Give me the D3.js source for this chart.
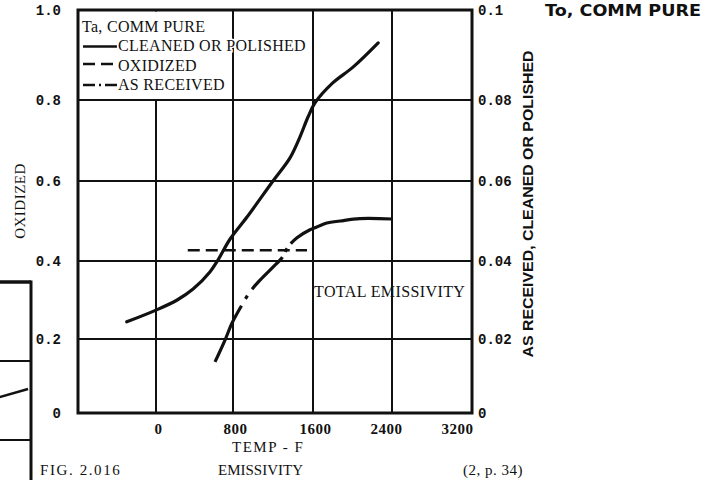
<!DOCTYPE html>
<html>
<head>
<meta charset="utf-8">
<script src="https://cdn.jsdelivr.net/npm/d3@7"></script>
<style>
  body { margin: 0; background: #fff; }
  svg { display: block; background: #fff; }
</style>
</head>
<body>
<svg id="chart" width="718" height="480"></svg>
<script>
const xTicks = [0, 800, 1600, 2400, 3200];
const xGrid = [0, 800, 1600, 2400];
const leftTicks = [0, 0.2, 0.4, 0.6, 0.8, 1.0];
const leftTickLabels = ["0", "0.2", "0.4", "0.6", "0.8", "1.0"];
const rightTicks = [0, 0.02, 0.04, 0.06, 0.08, 0.1];
const rightTickLabels = ["0", "0.02", "0.04", "0.06", "0.08", "0.1"];

// cleaned or polished, read on the right axis
const cleanedTemp = [-300, 0, 220, 385, 560, 645, 770, 940, 1200, 1370, 1470, 1550, 1620, 1800, 2005, 2260];
const cleanedEm = [0.0244, 0.0274, 0.0300, 0.0328, 0.0372, 0.0403, 0.0455, 0.0510, 0.0600, 0.0657, 0.0709, 0.0758, 0.0793, 0.0838, 0.0873, 0.0927];

// as received, right axis
const receivedTemp = [613, 717, 790, 900, 970, 1070, 1190, 1290, 1350, 1440, 1570, 1620, 1740, 1875, 2075, 2400];
const receivedEm = [0.0138, 0.0197, 0.0241, 0.0292, 0.0321, 0.0351, 0.0382, 0.0408, 0.0435, 0.0458, 0.0478, 0.0483, 0.0495, 0.0500, 0.0506, 0.0505];

// oxidized, left axis
const oxidizedTemp = [330, 1540];
const oxidizedEm = [0.427, 0.427];

// edge of the neighbouring figure, cut off by the page
const nbGrid = [0.2, 0.4];
const nbTemp = [2800, 3170];
const nbEm = [0.303, 0.329];

const SERIF = "'Liberation Serif', 'Times New Roman', serif";
const MONO = "'Liberation Mono', 'Courier New', monospace";

const svg = d3.select("#chart");

// the scan is slightly uneven, so the grid is not evenly spaced
const x = d3.scaleLinear().domain([-800, 0, 800, 1600, 2400, 3200]).range([78, 156, 233, 313, 392, 472]);
const y = d3.scaleLinear().domain(leftTicks).range([413, 339, 261, 181, 100, 10]);
const yR = d3.scaleLinear().domain(rightTicks).range([413, 339, 261, 181, 100, 10]);

const nbX = d3.scaleLinear().domain([2400, 3200]).range([-48, 31]);
const nbY = d3.scaleLinear().domain([0, 0.6]).range([519, 282]);

// neighbour piece
const nb = svg.append("g").attr("stroke", "#111").attr("fill", "none");
nb.append("line")
  .attr("x1", nbX(2400)).attr("x2", nbX(3200))
  .attr("y1", nbY(0.6)).attr("y2", nbY(0.6))
  .attr("stroke-width", 3.5);
nb.append("line")
  .attr("x1", nbX(3200)).attr("x2", nbX(3200))
  .attr("y1", nbY(0.6) - 1.5).attr("y2", nbY(0))
  .attr("stroke-width", 3);
nb.selectAll(".nbgrid")
  .data(nbGrid)
  .join("line")
  .attr("x1", nbX(2400)).attr("x2", nbX(3200))
  .attr("y1", d => nbY(d)).attr("y2", d => nbY(d))
  .attr("stroke-width", 2);
nb.append("path")
  .datum(d3.zip(nbTemp, nbEm))
  .attr("d", d3.line().x(d => nbX(d[0])).y(d => nbY(d[1])))
  .attr("stroke-width", 2.5);

// grid
const grid = svg.append("g").attr("stroke", "#111");
grid.selectAll(".hgrid")
  .data(leftTicks.slice(1, -1))
  .join("line")
  .attr("x1", x(-800)).attr("x2", x(3200))
  .attr("y1", d => y(d)).attr("y2", d => y(d))
  .attr("stroke-width", 2);
grid.selectAll(".vgrid")
  .data(xGrid)
  .join("line")
  .attr("x1", d => x(d)).attr("x2", d => x(d))
  .attr("y1", y(1)).attr("y2", y(0))
  .attr("stroke-width", 2);

// legend box hides the grid behind it
svg.append("rect")
  .attr("x", x(-800) + 1.5)
  .attr("y", y(1) + 1.5)
  .attr("width", x(800) - x(-800) - 2.5)
  .attr("height", y(0.8) - y(1) - 2.5)
  .attr("fill", "#fff");

// frame
svg.append("rect")
  .attr("x", x(-800)).attr("y", y(1))
  .attr("width", x(3200) - x(-800))
  .attr("height", y(0) - y(1))
  .attr("fill", "none")
  .attr("stroke", "#111")
  .attr("stroke-width", 3);

// curves
const lineR = d3.line().x(d => x(d[0])).y(d => yR(d[1])).curve(d3.curveCatmullRom.alpha(0.5));
const lineL = d3.line().x(d => x(d[0])).y(d => y(d[1]));

svg.append("path")
  .datum(d3.zip(cleanedTemp, cleanedEm))
  .attr("d", lineR)
  .attr("fill", "none")
  .attr("stroke", "#111")
  .attr("stroke-width", 3.2)
  .attr("stroke-linecap", "round");

svg.append("path")
  .datum(d3.zip(receivedTemp, receivedEm))
  .attr("d", lineR)
  .attr("fill", "none")
  .attr("stroke", "#111")
  .attr("stroke-width", 3.2)
  .attr("stroke-dasharray", "62,8,4,8,44,6,4,6,400");

svg.append("path")
  .datum(d3.zip(oxidizedTemp, oxidizedEm))
  .attr("d", lineL)
  .attr("fill", "none")
  .attr("stroke", "#111")
  .attr("stroke-width", 2.6)
  .attr("stroke-dasharray", "12,6");

// axes labels
function styleAxis(g, family, size) {
  g.select(".domain").remove();
  g.attr("font-family", family).attr("font-size", size).attr("font-weight", "bold");
  g.selectAll("text").attr("fill", "#111");
}

svg.append("g")
  .attr("transform", `translate(${x(-800)},0)`)
  .call(d3.axisLeft(y).tickValues(leftTicks).tickFormat((d, i) => leftTickLabels[i]).tickSize(0).tickPadding(17))
  .call(g => styleAxis(g, MONO, 14));

svg.append("g")
  .attr("transform", `translate(${x(3200)},0)`)
  .call(d3.axisRight(yR).tickValues(rightTicks).tickFormat((d, i) => rightTickLabels[i]).tickSize(0).tickPadding(6))
  .call(g => styleAxis(g, MONO, 14));

svg.append("g")
  .attr("transform", `translate(0,${y(0)})`)
  .call(d3.axisBottom(x).tickValues(xTicks).tickFormat(d3.format("d")).tickSize(0).tickPadding(10))
  .call(g => styleAxis(g, SERIF, 15))
  .call(g => g.selectAll(".tick text").attr("letter-spacing", 0.5)
    .attr("text-anchor", d => d === 3200 ? "end" : "middle")
    .attr("dx", d => d === 3200 ? 1 : (d === 2400 ? -6 : 2)));

// titles
function label(txt, tx, ty, opts) {
  const t = svg.append("text")
    .attr("x", tx).attr("y", ty)
    .attr("font-family", opts.family || SERIF)
    .attr("font-size", opts.size || 15)
    .attr("font-weight", opts.weight || "normal")
    .attr("fill", "#111")
    .attr("text-anchor", opts.anchor || "start")
    .text(txt);
  if (opts.spacing) t.attr("letter-spacing", opts.spacing);
  if (opts.rotate) t.attr("transform", `rotate(${opts.rotate},${tx},${ty})`);
  if (opts.len) t.attr("textLength", opts.len).attr("lengthAdjust", "spacingAndGlyphs");
  if (opts.halo) t.attr("stroke", "#fff").attr("stroke-width", 3).attr("paint-order", "stroke fill");
  return t;
}

label("OXIDIZED", 25, 201, { size: 15, spacing: 0.5, anchor: "middle", rotate: -90 });
label("AS RECEIVED, CLEANED OR POLISHED", 533, 204, { family: "'Liberation Sans', Arial, sans-serif", size: 15, weight: "bold", anchor: "middle", rotate: -90, len: 307 });
label("To, COMM PURE", 545, 16, { family: "'DejaVu Sans', sans-serif", size: 16, weight: "bold", len: 156 });
label("TOTAL EMISSIVITY", 314, 297, { size: 16, spacing: 0.4 });
label("TEMP - F", 232, 452, { size: 15, spacing: 1.5 });
label("EMISSIVITY", 218, 475, { size: 15 });
label("FIG. 2.016", 40, 475, { size: 15, spacing: 1.6 });
label("(2, p. 34)", 463, 475, { size: 15, spacing: 0.5 });

// legend
const lg = svg.append("g");
label("Ta, COMM PURE", 82, 32, { size: 16, spacing: 0.3 });

const legendRows = [
  { name: "CLEANED OR POLISHED", dash: null, ly: 46.5, ty: 51 },
  { name: "OXIDIZED", dash: "12,6", ly: 64, ty: 70.5 },
  { name: "AS RECEIVED", dash: "12,4,2,4,14", ly: 85, ty: 90 }
];

lg.selectAll("line")
  .data(legendRows)
  .join("line")
  .attr("x1", 83).attr("x2", 117)
  .attr("y1", d => d.ly).attr("y2", d => d.ly)
  .attr("stroke", "#111")
  .attr("stroke-width", 2.6)
  .attr("stroke-dasharray", d => d.dash);

legendRows.forEach(d => label(d.name, 118, d.ty, { size: 16, spacing: 0.3, halo: true }));
</script>
</body>
</html>
